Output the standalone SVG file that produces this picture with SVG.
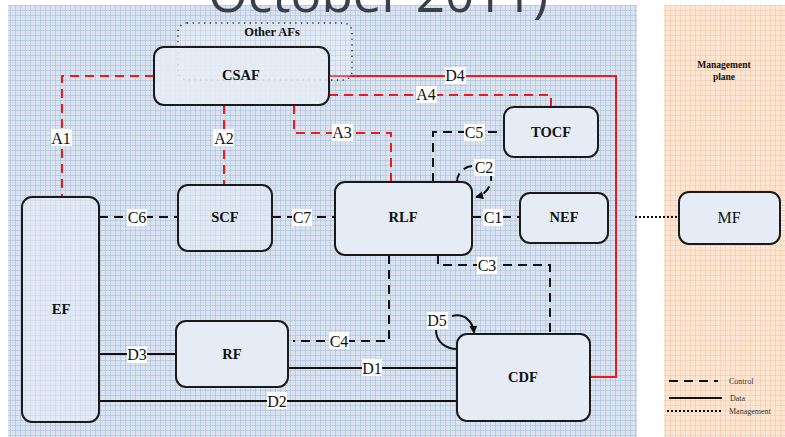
<svg xmlns="http://www.w3.org/2000/svg" width="785" height="437" viewBox="0 0 785 437">
  <defs>
    <pattern id="gridBlue" width="5" height="5" patternUnits="userSpaceOnUse">
      <rect width="5" height="5" fill="#dfe7f2"/>
      <path d="M0 0.5H5M0.5 0V5" stroke="#b7c9e1" stroke-width="1"/>
      <path d="M0 3H5M3 0V5" stroke="#cfdbec" stroke-width="0.6"/>
    </pattern>
    <pattern id="gridOrange" width="5" height="5" patternUnits="userSpaceOnUse">
      <rect width="5" height="5" fill="#fdebdc"/>
      <path d="M0 0.5H5M0.5 0V5" stroke="#f8cfb0" stroke-width="1"/>
      <path d="M0 3H5M3 0V5" stroke="#fbdcc5" stroke-width="0.6"/>
    </pattern>
    <marker id="arrow" viewBox="0 0 10 10" refX="9" refY="5" markerWidth="8" markerHeight="8" orient="auto" markerUnits="userSpaceOnUse">
      <path d="M0 0L10 5L0 10z" fill="#111"/>
    </marker>
  </defs>
  <style>
    .node rect { fill: #e6ecf6; stroke: #1a1a1a; stroke-width: 2; }
    .node text { font-family: "Liberation Serif", "Times New Roman", serif; font-weight: bold; font-size: 14.5px; fill: #111; text-anchor: middle; dominant-baseline: central; }
    .ctl { fill: none; stroke: #111; stroke-width: 2; stroke-dasharray: 9 6; }
    .dat { fill: none; stroke: #111; stroke-width: 2; }
    .mgmt { fill: none; stroke: #111; stroke-width: 2; stroke-dasharray: 2 2; }
    .actl { fill: none; stroke: #f01818; stroke-width: 2; stroke-dasharray: 9 6; }
    .adat { fill: none; stroke: #f01818; stroke-width: 2; }
    .lbl rect { fill: #fff; }
    .lbl text { font-family: "Liberation Serif", "Times New Roman", serif; font-size: 16px; fill: #111; text-anchor: middle; dominant-baseline: central; }
    .legend text { font-family: "Liberation Serif", "Times New Roman", serif; font-size: 8px; fill: #333; dominant-baseline: central; }
  </style>

  <!-- background planes -->
  <rect x="0" y="0" width="785" height="437" fill="#ffffff"/>
  <rect x="8" y="5" width="629" height="432" fill="url(#gridBlue)"/>
  <rect x="664" y="5" width="121" height="432" fill="url(#gridOrange)"/>

  <!-- heading fragment -->
  <text x="208" y="12" font-family="'Open Sans', 'Liberation Sans', sans-serif" font-size="52" fill="#3a4049" textLength="340" lengthAdjust="spacingAndGlyphs">October 2011)</text>

  <!-- management plane caption -->
  <text x="724" y="65" font-family="'Liberation Serif', serif" font-weight="bold" font-size="9.5" fill="#111" text-anchor="middle" dominant-baseline="central">Management</text>
  <text x="724" y="77" font-family="'Liberation Serif', serif" font-weight="bold" font-size="9.5" fill="#111" text-anchor="middle" dominant-baseline="central">plane</text>

  <!-- connectors -->
  <g id="connectors">
    <!-- access control (red dashed) -->
    <path class="actl" d="M154 76H62V197"/>
    <path class="actl" d="M224 105V185"/>
    <path class="actl" d="M294 105V133H391V182"/>
    <path class="actl" d="M329 95H551V107"/>
    <!-- D4 (red solid) -->
    <path class="adat" d="M329 76H616V377H590"/>
    <!-- control (black dashed) -->
    <path class="ctl" d="M433 182V132H504"/>
    <path class="ctl" d="M472 217H520"/>
    <path class="ctl" d="M99 217H178"/>
    <path class="ctl" d="M272 217H335"/>
    <path class="ctl" d="M438 255V265H550V334"/>
    <path class="ctl" d="M389 255V341H293"/>
    <!-- C2 self-loop -->
    <path class="ctl" d="M457 182C457 172 465 166 474 166" stroke-dasharray="5 3"/>
    <path class="ctl" d="M490 172C494 182 488 194 476 197" stroke-dasharray="5 3" marker-end="url(#arrow)"/>
    <!-- management (dotted) -->
    <path class="mgmt" d="M635 217H679"/>
    <!-- data (black solid) -->
    <path class="dat" d="M99 354H176"/>
    <path class="dat" d="M288 368H457"/>
    <path class="dat" d="M99 401H457"/>
    <!-- D5 self-loop -->
    <path class="dat" d="M457 349C446 349 436 342 436 330"/>
    <path class="dat" d="M452 316C464 313 473 321 474 333" marker-end="url(#arrow)"/>
  </g>

  <!-- nodes -->
  <g id="OtherAFs">
    <rect x="178" y="23" width="174" height="57" rx="9" fill="#ffffff" fill-opacity="0.25" stroke="#222" stroke-width="1.4" stroke-dasharray="1.2 4.5"/>
    <text x="272" y="32" font-family="'Liberation Serif', serif" font-weight="bold" font-size="12.5" fill="#111" text-anchor="middle" dominant-baseline="central">Other AFs</text>
  </g>
  <g id="CSAF" class="node">
    <rect x="154" y="47" width="175" height="58" rx="10" style="fill-opacity:0.85"/>
    <text x="241" y="75">CSAF</text>
  </g>
  <g id="SCF" class="node">
    <rect x="178" y="185" width="94" height="66" rx="10" style="fill-opacity:0.55"/>
    <text x="225" y="217">SCF</text>
  </g>
  <g id="RLF" class="node">
    <rect x="335" y="182" width="137" height="73" rx="10"/>
    <text x="403" y="217">RLF</text>
  </g>
  <g id="TOCF" class="node">
    <rect x="504" y="107" width="94" height="50" rx="10"/>
    <text x="551" y="132">TOCF</text>
  </g>
  <g id="NEF" class="node">
    <rect x="520" y="193" width="88" height="50" rx="10"/>
    <text x="564" y="217">NEF</text>
  </g>
  <g id="MF" class="node">
    <rect x="679" y="192" width="101" height="52" rx="10"/>
    <text x="729" y="217" style="font-weight:normal;font-size:16px">MF</text>
  </g>
  <g id="EF" class="node">
    <rect x="22" y="197" width="77" height="225" rx="10" style="fill-opacity:0.6"/>
    <text x="61" y="309">EF</text>
  </g>
  <g id="RF" class="node">
    <rect x="176" y="321" width="112" height="66" rx="10"/>
    <text x="232" y="354">RF</text>
  </g>
  <g id="CDF" class="node">
    <rect x="457" y="334" width="133" height="87" rx="10"/>
    <text x="523" y="377">CDF</text>
  </g>

  <!-- connector labels -->
  <g id="labels">
    <g class="lbl"><rect x="51" y="129" width="21" height="17"/><text x="61" y="138">A1</text></g>
    <g class="lbl"><rect x="213" y="129" width="21" height="17"/><text x="224" y="138">A2</text></g>
    <g class="lbl"><rect x="332" y="124" width="21" height="17"/><text x="342" y="132">A3</text></g>
    <g class="lbl"><rect x="416" y="86" width="21" height="17"/><text x="426" y="94">A4</text></g>
    <g class="lbl"><rect x="445" y="67" width="21" height="17"/><text x="455" y="75">D4</text></g>
    <g class="lbl"><rect x="464" y="124" width="21" height="17"/><text x="474" y="132">C5</text></g>
    <g class="lbl"><rect x="474" y="159" width="21" height="17"/><text x="484" y="167">C2</text></g>
    <g class="lbl"><rect x="483" y="209" width="20" height="17"/><text x="493" y="217">C1</text></g>
    <g class="lbl"><rect x="127" y="209" width="20" height="17"/><text x="137" y="217">C6</text></g>
    <g class="lbl"><rect x="292" y="209" width="20" height="17"/><text x="302" y="217">C7</text></g>
    <g class="lbl"><rect x="477" y="257" width="20" height="17"/><text x="487" y="265">C3</text></g>
    <g class="lbl"><rect x="329" y="332" width="20" height="17"/><text x="339" y="341">C4</text></g>
    <g class="lbl"><rect x="427" y="312" width="21" height="17"/><text x="437" y="320">D5</text></g>
    <g class="lbl"><rect x="127" y="346" width="20" height="17"/><text x="137" y="354">D3</text></g>
    <g class="lbl"><rect x="362" y="359" width="20" height="17"/><text x="372" y="368">D1</text></g>
    <g class="lbl"><rect x="267" y="392" width="20" height="17"/><text x="277" y="401">D2</text></g>
  </g>

  <!-- legend -->
  <g class="legend">
    <path class="ctl" d="M669 381H718" stroke-width="1.5"/>
    <text x="729" y="381">Control</text>
    <path class="dat" d="M669 398H722" stroke-width="1.5"/>
    <text x="730" y="398">Data</text>
    <path class="mgmt" d="M667 411H721" stroke-width="1.5"/>
    <text x="729" y="411">Management</text>
  </g>
</svg>
